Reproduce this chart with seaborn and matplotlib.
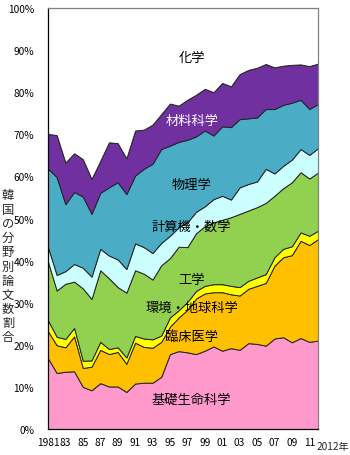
import matplotlib
matplotlib.use("Agg")
import matplotlib.pyplot as plt
import seaborn as sns
import numpy as np

years = list(range(1981, 2013))

life_sci = [16.8, 13.3, 13.6, 13.7, 10.0, 9.2, 10.9, 10.1, 10.1, 8.8, 10.8, 11.0, 11.0, 12.4, 17.8, 18.5,
            18.2, 17.8, 18.6, 19.6, 18.6, 19.2, 18.8, 20.4, 20.2, 19.8, 21.5, 21.8, 20.6, 21.6, 20.7, 21.0]
clinical = [6.4, 6.6, 5.8, 8.3, 4.5, 5.6, 7.9, 7.7, 8.2, 6.7, 9.7, 8.5, 8.3, 8.3, 6.5, 8.0,
            10.1, 13.2, 13.6, 12.9, 13.9, 12.8, 12.9, 12.9, 13.8, 14.9, 17.3, 19.0, 20.7, 23.1, 23.0, 24.1]
env_earth = [2.6, 2.0, 2.0, 2.0, 1.7, 1.5, 1.9, 1.2, 1.1, 1.5, 1.6, 2.0, 2.0, 1.5, 2.2, 1.7,
             1.9, 1.8, 1.8, 1.9, 1.9, 2.0, 2.0, 1.9, 2.0, 2.1, 2.0, 2.0, 2.1, 2.0, 2.2, 2.0]
engineering = [13.9, 11.0, 13.1, 11.0, 17.2, 14.6, 17.0, 16.8, 14.3, 15.4, 15.6, 15.4, 14.2, 16.7, 14.1, 15.1,
               13.0, 13.7, 14.2, 14.7, 15.3, 16.3, 17.4, 16.7, 16.7, 16.9, 14.6, 14.4, 15.2, 14.3, 13.6, 13.8]
comp_math = [3.5, 3.7, 3.0, 4.2, 4.9, 5.3, 5.1, 5.4, 6.6, 5.6, 6.4, 6.3, 6.3, 5.3, 5.3, 4.6,
             5.9, 5.1, 4.7, 5.5, 5.7, 4.2, 6.3, 6.3, 6.1, 8.1, 5.3, 5.3, 5.4, 5.5, 5.6, 5.8]
physics = [18.7, 23.2, 15.9, 17.1, 16.9, 14.9, 13.3, 16.2, 18.3, 17.8, 16.1, 18.6, 21.2, 22.3, 21.4, 20.3,
           19.6, 17.9, 18.0, 15.1, 16.5, 17.2, 16.2, 15.6, 15.2, 14.2, 15.3, 14.5, 13.5, 11.7, 10.9, 10.5]
materials = [8.2, 10.0, 9.9, 9.2, 8.9, 8.3, 7.6, 10.7, 9.3, 8.5, 10.7, 9.3, 9.3, 8.3, 10.0, 8.6,
             9.5, 9.9, 9.9, 10.3, 10.3, 9.7, 10.7, 11.5, 11.8, 10.7, 9.9, 9.3, 9.0, 8.4, 10.2, 9.6]
chemistry = [29.9, 30.2, 36.7, 34.5, 35.9, 40.6, 36.3, 31.9, 32.1, 35.7, 29.1, 28.9, 27.7, 25.2, 22.7, 23.2,
             21.8, 20.6, 19.2, 20.0, 17.8, 18.6, 15.7, 14.7, 14.2, 13.3, 14.1, 13.7, 13.5, 13.4, 13.8, 13.2]

series_names = ["基礎生命科学", "臨床医学", "環境・地球科学", "工学", "計算機・数学", "物理学", "材料科学", "化学"]
colors = ["#FF99CC", "#FFC000", "#FFFF00", "#92D050", "#CCFFFF", "#4BACC6", "#7030A0", "#FFFFFF"]

label_y = [7.1, 22.0, 28.9, 35.6, 48.1, 58.1, 73.3, 88.4]
label_colors = ["black", "black", "black", "black", "black", "black", "white", "black"]

xtick_labels = ["1981", "83", "85", "87", "89", "91", "93", "95", "97", "99",
                "01", "03", "05", "07", "09", "11"]
ytick_labels = [f"{v}%" for v in range(0, 101, 10)]
ylabel = "韓国の分野別論文数割合"

sns.set_theme(style="white")
plt.rcParams["font.family"] = ["Noto Sans CJK JP", "DejaVu Sans"]

fig = plt.figure(figsize=(3.5, 4.56), dpi=100)
ax = fig.add_axes([48/350, 1-430/456, 270/350, 421/456])

ax.stackplot(years, life_sci, clinical, env_earth, engineering, comp_math, physics, materials, chemistry,
             colors=colors, edgecolor="#222222", linewidth=0.7)

ax.set_xlim(1981, 2012)
ax.set_ylim(0, 100)

ax.set_xticks(years)
ax.set_xticklabels([xtick_labels[i // 2] if i % 2 == 0 and i // 2 < len(xtick_labels) else "" for i in range(len(years))])
ax.set_yticks(range(0, 101, 10))
ax.set_yticklabels(ytick_labels)
ax.tick_params(axis="both", direction="in", length=3, width=0.8, colors="black", labelsize=7.3)
ax.tick_params(axis="y", pad=10)
ax.tick_params(axis="x", pad=6)
ax.annotate("2012年", xy=(2012, 0), xycoords="data", xytext=(-1, -9),
            textcoords="offset points", ha="left", va="top", fontsize=7.3)

for sp in ["left", "bottom"]:
    ax.spines[sp].set_color("black")
    ax.spines[sp].set_linewidth(0.9)
for sp in ["top", "right"]:
    ax.spines[sp].set_color("#808080")
    ax.spines[sp].set_linewidth(0.9)

for name, y, c in zip(series_names, label_y, label_colors):
    ax.text(1997.5, y, name, ha="center", va="center", fontsize=9.5, color=c)

fig.text(8/350, 1-267/456, "\n".join(ylabel), ha="center", va="center", fontsize=8.8, linespacing=1.12)

fig.savefig("out.png", dpi=100)
